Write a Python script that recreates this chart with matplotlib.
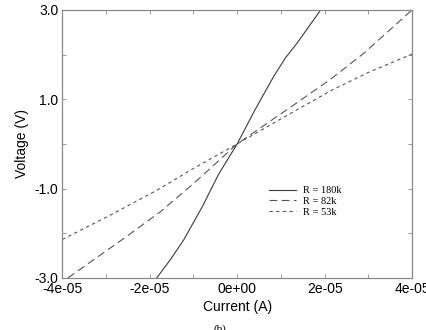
import matplotlib
matplotlib.use("Agg")
import matplotlib.pyplot as plt
import numpy as np

# I-V curves, current in units of 1e-5 A, voltage in V
i_180k = [-1.84, -1.52, -1.23, -0.80, -0.42, 0.0, 0.40, 0.84, 1.10, 1.38, 1.91]
v_180k = [-3.0, -2.58, -2.16, -1.41, -0.67, 0.0, 0.75, 1.52, 1.92, 2.27, 3.0]

i_82k = [-3.87, -2.54, -1.77, -1.00, 0.0, 1.38, 2.14, 2.91, 4.00]
v_82k = [-3.0, -2.08, -1.53, -0.89, 0.0, 0.93, 1.45, 2.04, 3.0]

i_53k = [-4.00, -2.91, -1.84, -1.00, 0.0, 1.00, 2.14, 3.00, 4.00]
v_53k = [-2.14, -1.60, -1.04, -0.55, 0.0, 0.56, 1.19, 1.60, 2.01]

labels = ["R = 180k", "R = 82k", "R = 53k"]
x_ticks = [-4e-5, -2e-5, 0.0, 2e-5, 4e-5]
x_ticklabels = ["-4e-05", "-2e-05", "0e+00", "2e-05", "4e-05"]
y_ticks = [3.0, 1.0, -1.0, -3.0]
y_ticklabels = ["3.0", "1.0", "-1.0", "-3.0"]

plt.rcParams["font.family"] = ["Liberation Sans", "DejaVu Sans"]

fig = plt.figure(figsize=(4.27, 3.30), dpi=100)
ax = fig.add_axes([0.146, 0.158, 0.819, 0.812])

scale = 1e-5
ax.plot(np.array(i_180k) * scale, v_180k, color="#3a3a3a", lw=0.8, ls="-", label=labels[0])
ax.plot(np.array(i_82k) * scale, v_82k, color="#555555", lw=0.8, ls=(0, (7, 4)), label=labels[1])
ax.plot(np.array(i_53k) * scale, v_53k, color="#555555", lw=0.8, ls=(0, (3, 3)), label=labels[2])

ax.set_xlim(-4e-5, 4e-5)
ax.set_ylim(-3.0, 3.0)
ax.set_xticks(x_ticks)
ax.set_xticklabels(x_ticklabels)
ax.set_xticks(np.arange(-4e-5, 4.01e-5, 1e-5), minor=True)
ax.set_yticks(y_ticks)
ax.set_yticklabels(y_ticklabels)
ax.set_yticks(np.arange(-3, 3.01, 1.0), minor=True)
ax.tick_params(which="both", direction="in", top=True, right=True,
               length=3, width=0.6, color="#888888", labelsize=10, pad=3)
for s in ax.spines.values():
    s.set_color("#888888")
    s.set_linewidth(0.9)

ax.set_xlabel("Current (A)", fontsize=10, labelpad=3)
ax.set_ylabel("Voltage (V)", fontsize=10, labelpad=4)

leg = ax.legend(loc="center left", bbox_to_anchor=(0.565, 0.285), frameon=False,
                prop={"family": "Liberation Serif", "size": 7.5},
                handlelength=2.6, handletextpad=0.6, labelspacing=0.15)

fig.text(0.515, 0.003, "(b)", fontsize=8, family="Liberation Serif", ha="center", va="center")

fig.savefig("out.png", dpi=100, facecolor="white")
